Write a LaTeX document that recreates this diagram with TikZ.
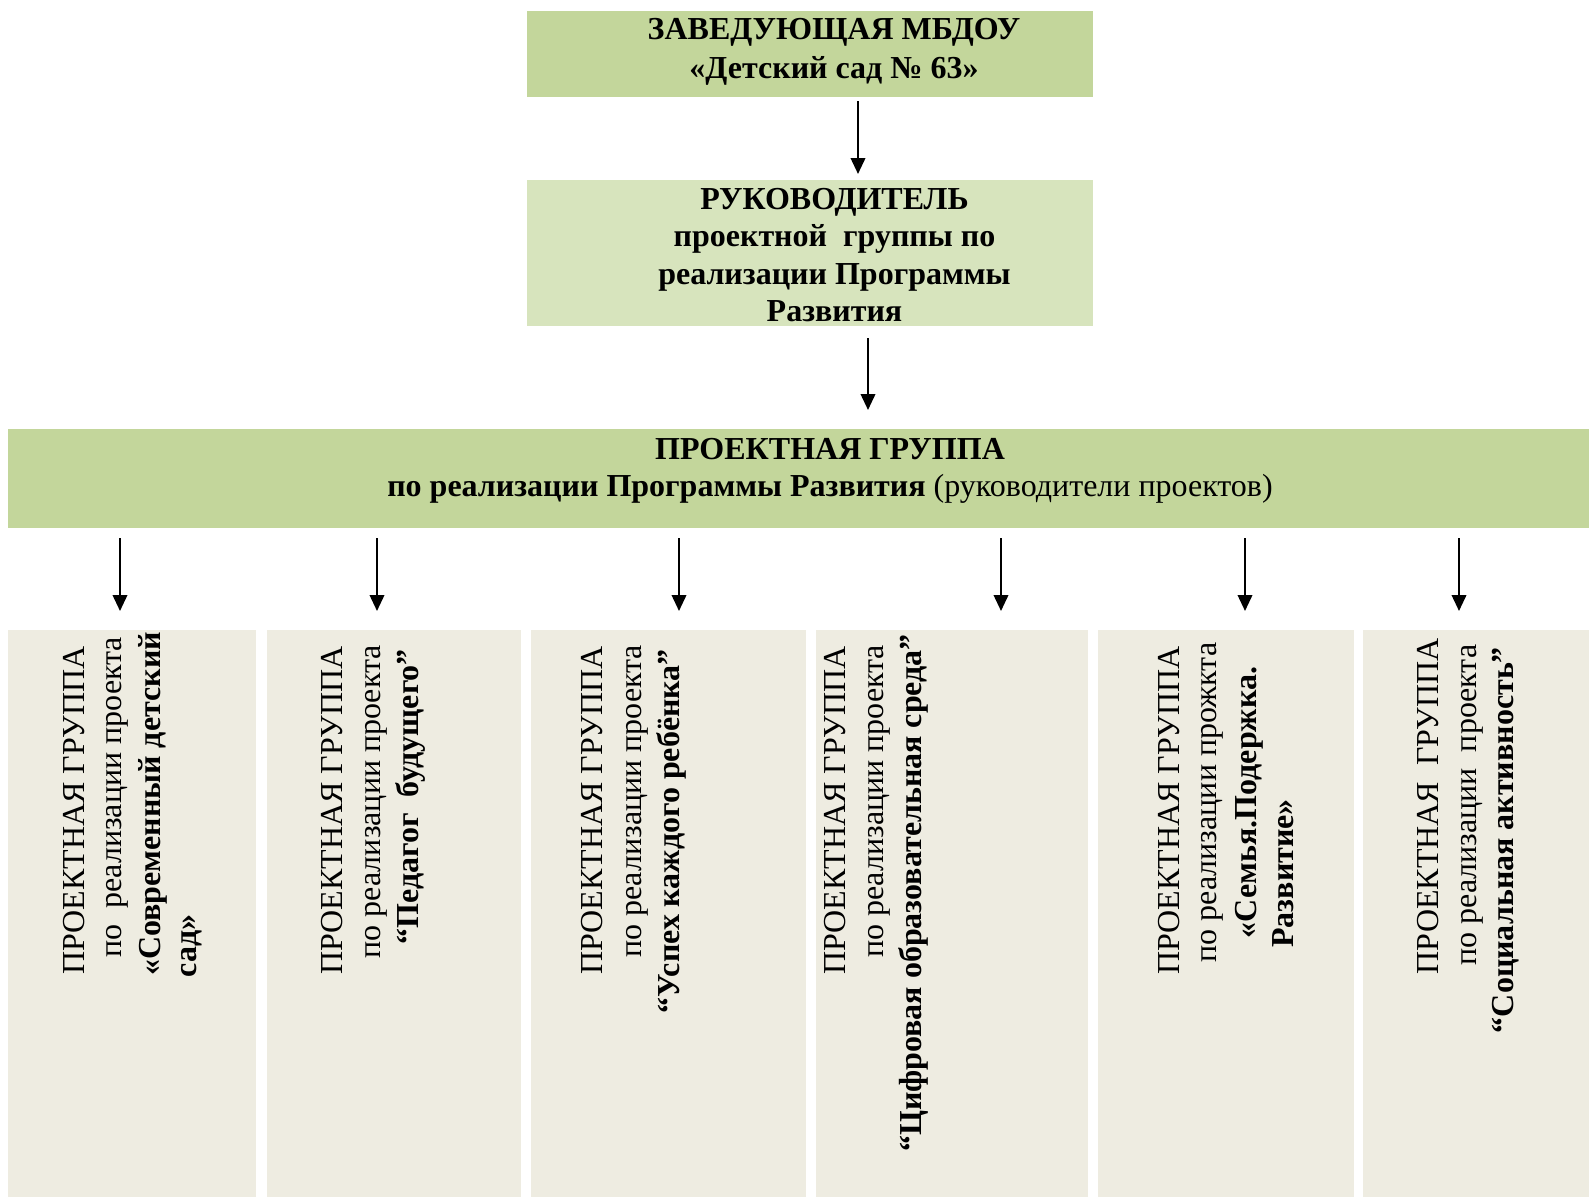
\documentclass[tikz,border=0pt]{standalone}
\usepackage{fontspec}
\setmainfont{Liberation Serif}
\usetikzlibrary{arrows.meta}
\definecolor{gA}{HTML}{C3D69B}
\definecolor{gB}{HTML}{D7E4BD}
\definecolor{tn}{HTML}{EEECE1}
\begin{document}
\begin{tikzpicture}[x=1pt,y=-1pt,
  boxn/.style={draw=none, inner sep=0pt, outer sep=0pt, rectangle},
  hd/.style={inner sep=0pt, align=center, font=\fontsize{32}{39.5}\selectfont\bfseries},
  rot/.style={rotate=90, anchor=base, inner sep=0pt, font=\fontsize{32}{38}\selectfont},
  rotb/.style={rotate=90, anchor=base, inner sep=0pt, font=\fontsize{32}{38}\selectfont\bfseries},
  arr/.style={line width=2.2pt, -{Triangle[length=16pt,width=14.5pt]}},
]
\useasboundingbox (0,0) rectangle (1589,1197);
\fill[white] (0,0) rectangle (1589,1197);

% boxes
\node[boxn, fill=gA, minimum width=566pt, minimum height=86pt] (top) at (810,54) {};
\node[boxn, fill=gB, minimum width=566pt, minimum height=146pt] (mid) at (810,253) {};
\node[boxn, fill=gA, minimum width=1581pt, minimum height=99pt] (pg) at (798.5,478.5) {};
\node[boxn, fill=tn, minimum width=248pt, minimum height=567pt] (b1) at (132,913.5) {};
\node[boxn, fill=tn, minimum width=254pt, minimum height=567pt] (b2) at (394,913.5) {};
\node[boxn, fill=tn, minimum width=275pt, minimum height=567pt] (b3) at (668.5,913.5) {};
\node[boxn, fill=tn, minimum width=272pt, minimum height=567pt] (b4) at (952,913.5) {};
\node[boxn, fill=tn, minimum width=256pt, minimum height=567pt] (b5) at (1226,913.5) {};
\node[boxn, fill=tn, minimum width=226pt, minimum height=567pt] (b6) at (1476,913.5) {};

% header texts
\node[hd] (topT) at (834,52) {ЗАВЕДУЮЩАЯ МБДОУ\\«Детский сад № 63»};
\node[hd, font=\fontsize{32}{37.2}\selectfont\bfseries] (midT) at (834.5,255) {РУКОВОДИТЕЛЬ\\проектной~~группы по\\реализации Программы\\Развития};
\node[hd, font=\fontsize{32}{37.5}\selectfont\bfseries] (pgT) at (830,471) {ПРОЕКТНАЯ ГРУППА\\по реализации Программы Развития \mdseries(руководители проектов)};

% rotated texts, box 1
\node[rot]  (t11) at (84.3,810.5) {ПРОЕКТНАЯ ГРУППА};
\node[rot]  (t12) at (121.7,797.5) {по~~реализации проекта};
\node[rotb] (t13) at (160,804) {«Современный детский};
\node[rotb] (t14) at (196.7,945.8) {сад»};
% box 2
\node[rot]  (t21) at (342.3,810.5) {ПРОЕКТНАЯ ГРУППА};
\node[rot]  (t22) at (380,801.7) {по реализации проекта};
\node[rotb] (t23) at (418,796.7) {“Педагог~~будущего”};
% box 3
\node[rot]  (t31) at (602.3,810.5) {ПРОЕКТНАЯ ГРУППА};
\node[rot]  (t32) at (641.7,801.3) {по реализации проекта};
\node[rotb] (t33) at (679,831.3) {“Успех каждого ребёнка”};
% box 4
\node[rot]  (t41) at (845,810.5) {ПРОЕКТНАЯ ГРУППА};
\node[rot]  (t42) at (883.3,801.3) {по реализации проекта};
\node[rotb] (t43) at (921.7,893) {“Цифровая образовательная среда”};
% box 5
\node[rot]  (t51) at (1179,810.5) {ПРОЕКТНАЯ ГРУППА};
\node[rot]  (t52) at (1216.7,802.5) {по реализации прожкта};
\node[rotb] (t53) at (1256.7,802.5) {«Семья.Подержка.};
\node[rotb] (t54) at (1293.3,873.3) {Развитие»};
% box 6
\node[rot]  (t61) at (1438.3,806.3) {ПРОЕКТНАЯ~~ГРУППА};
\node[rot]  (t62) at (1476.7,805) {по реализации~~проекта};
\node[rotb] (t63) at (1513.3,840) {“Социальная активность”};

% arrow columns
\coordinate (xa) at (858,0);
\coordinate (xb) at (868,0);
\coordinate (x1) at (120,0);
\coordinate (x2) at (377,0);
\coordinate (x3) at (679,0);
\coordinate (x4) at (1001,0);
\coordinate (x5) at (1245,0);
\coordinate (x6) at (1459,0);

\draw[arr] ([yshift=-4pt]top.south -| xa) -- ([yshift=6pt]mid.north -| xa);
\draw[arr] ([yshift=-12pt]mid.south -| xb) -- ([yshift=19pt]pg.north -| xb);
\draw[arr] ([yshift=-10pt]pg.south -| x1) -- ([yshift=19pt]b1.north -| x1);
\draw[arr] ([yshift=-10pt]pg.south -| x2) -- ([yshift=19pt]b2.north -| x2);
\draw[arr] ([yshift=-10pt]pg.south -| x3) -- ([yshift=19pt]b3.north -| x3);
\draw[arr] ([yshift=-10pt]pg.south -| x4) -- ([yshift=19pt]b4.north -| x4);
\draw[arr] ([yshift=-10pt]pg.south -| x5) -- ([yshift=19pt]b5.north -| x5);
\draw[arr] ([yshift=-10pt]pg.south -| x6) -- ([yshift=19pt]b6.north -| x6);
\end{tikzpicture}
\end{document}
